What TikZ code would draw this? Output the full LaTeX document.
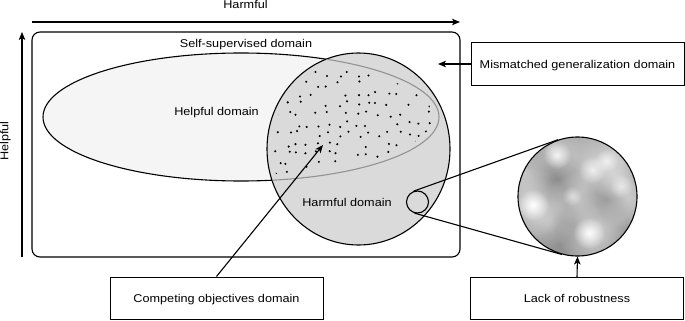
\documentclass[tikz,border=0pt]{standalone}
\usepackage{fontspec}
\setmainfont{Liberation Sans}[FakeStretch=1.12]
\usetikzlibrary{shapes.geometric,arrows.meta,fadings}
\tikzfading[name=blobfade, inner color=transparent!0, outer color=transparent!100]
\definecolor{helpfill}{HTML}{F5F5F5}
\definecolor{harmfill}{HTML}{DADADA}
\definecolor{magbase}{gray}{0.64}
\begin{document}
\begin{tikzpicture}[
			x=1pt, y=-1pt,
			every node/.style={font=\fontsize{11.3pt}{13pt}\selectfont, inner sep=0pt},
			txt/.style={anchor=base},
			box/.style={draw, line width=1pt, minimum width=213pt, minimum height=42pt, text height=8.1pt, text depth=0pt},
			arr/.style={-{Stealth[length=8pt,width=6.5pt,inset=2pt]}, line width=1.1pt},
			tang/.style={line width=1.1pt},
			]
			\useasboundingbox (0,0) rectangle (685,321);

			% --- Axes ---
			\coordinate (h0) at (32,22); \coordinate (h1) at (460,22);
			\coordinate (v0) at (22,257); \coordinate (v1) at (22,32);
			\draw[arr] (h0) -- (h1);
			\draw[arr] (v0) -- (v1);
			\node[txt] (harmax) at (245.5,9) {Harmful};
			\node[txt, rotate=90] (helpax) at (8.5,141) {Helpful};

			% --- Domains ---
			\node[draw, rounded corners=8pt, line width=1.1pt, minimum width=428pt, minimum height=225pt] (ssl) at (246,144.5) {};
			\node[txt] (ssllab) at (246,47.3) {Self-supervised domain};
			\node[ellipse, draw, fill=helpfill, line width=1.1pt, minimum width=396pt, minimum height=128pt] (help) at (241,117) {};
			\node[ellipse, draw, fill=harmfill, line width=1.1pt, minimum width=183pt, minimum height=192pt] (harm) at (358.5,149) {};

			% Helpful border seen through the harmful domain
			\begin{scope}
				\clip (358.5,149) ellipse [x radius=91pt, y radius=95.5pt];
				\draw[gray!85, line width=1.1pt] (241,117) ellipse [x radius=198pt, y radius=64pt];
			\end{scope}

			\node[txt] (helplab) at (216.5,115.3) {Helpful domain};
			\node[txt] (harmlab) at (347,206.5) {Harmful domain};

			% --- Dots in the overlap ---
			\pgfmathsetseed{42}
			\begin{scope}
				\clip (358.5,149) ellipse [x radius=86pt, y radius=90pt];
				\clip (241,117) ellipse [x radius=192pt, y radius=58pt];
				\foreach \i in {0,...,18}{
					\foreach \j in {0,...,13}{
						\pgfmathsetmacro{\dx}{268+10*\i+3*rand}
						\pgfmathsetmacro{\dy}{54+10*\j+3*rand}
						\pgfmathsetmacro{\keep}{rnd}
						\ifdim\keep pt<0.82pt \fill (\dx,\dy) circle [radius=1.15pt];\fi
					}
				}
			\end{scope}

			% --- Lens and magnified view ---
			\node[circle, draw, line width=1.1pt, minimum size=22pt] (lens) at (417.5,202) {};

			\begin{scope}
				\clip (577.5,196.5) circle [radius=59.5pt];
				\fill[magbase] (517,136) rectangle (638,257);
				% darker clouds
				\foreach \bx/\by/\br/\bo in {555/178/30/0.15, 575/222/24/0.12, 606/199/26/0.15, 560/245/30/0.12,
					540/150/24/0.1, 632/242/26/0.12}
					\fill[black, opacity=\bo, path fading=blobfade] (\bx,\by) circle [radius=\br pt];
				% lighter clouds
				\foreach \bx/\by/\br/\bo in {595/162/40/0.45, 531/203/36/0.5, 592/230/36/0.5, 628/197/32/0.45,
					577/198/28/0.35, 552/150/30/0.4, 525/172/26/0.35, 614/174/26/0.4, 548/222/26/0.3, 620/150/24/0.35}
					\fill[white, opacity=\bo, path fading=blobfade] (\bx,\by) circle [radius=\br pt];
				% bright spots
				\foreach \bx/\by/\br/\bo in {533/205/16/1, 589/233/16/0.95, 557/155/14/0.85, 592/170/14/0.7, 606/161/12/0.7,
					621/186/12/0.6, 572/196/10/0.5}
					\fill[white, opacity=\bo, path fading=blobfade] (\bx,\by) circle [radius=\br pt];
			\end{scope}
			\node[circle, draw, line width=1.1pt, minimum size=119pt] (mag) at (577.5,196.5) {};

			\draw[tang] (lens.109.6) -- (mag.109.6);
			\draw[tang] (lens.-105.6) -- (mag.-105.6);

			% --- Boxes ---
			\node[box] (comp) at (216.5,298) {Competing objectives domain};
			\node[box] (lack) at (577,298.5) {Lack of robustness};
			\node[box] (mis) at (577.5,64) {Mismatched generalization domain};

			\coordinate (comptip) at (323,145);
			\coordinate (mistip) at (438,64);
			\draw[arr] (comp.north) -- (comptip);
			\draw[arr] (mis.west) -- (mistip);
			\draw[arr] (lack.north) -- (mag.south);

		\end{tikzpicture}
\end{document}
